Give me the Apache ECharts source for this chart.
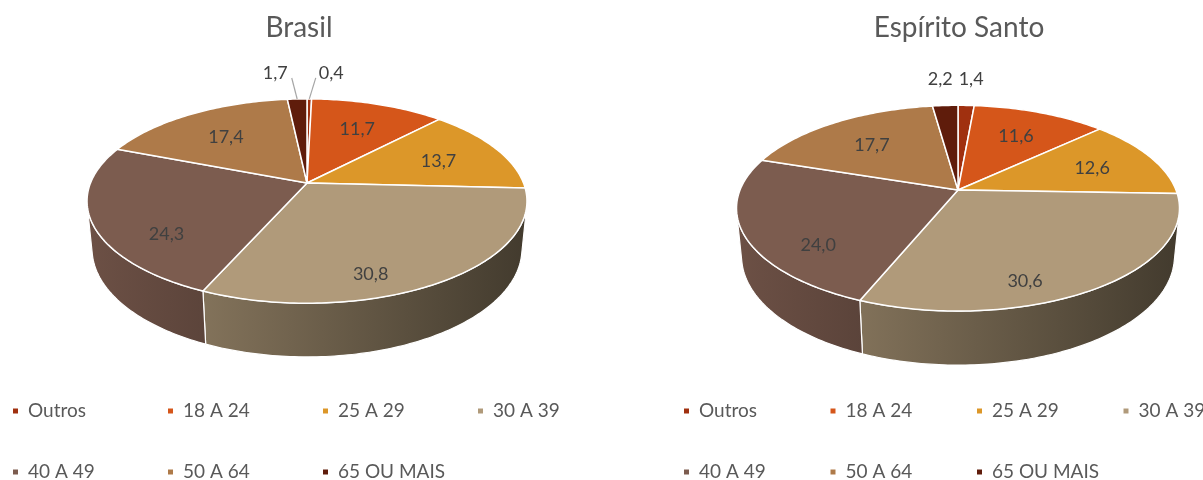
<!DOCTYPE html>
<html><head><meta charset="utf-8">
<script src="https://cdn.jsdelivr.net/npm/echarts@6/dist/echarts.min.js"></script>
<style>html,body{margin:0;padding:0;background:#fff}#c{width:1203px;height:480px}</style>
</head><body><div id="c"></div>
<script>
// ---- data ----
const categories = ['Outros', '18 A 24', '25 A 29', '30 A 39', '40 A 49', '50 A 64', '65 OU MAIS'];
const brasilValues = [0.4, 11.7, 13.7, 30.8, 24.3, 17.4, 1.7];
const espiritoSantoValues = [1.4, 11.6, 12.6, 30.6, 24.0, 17.7, 2.2];
const titles = ['Brasil', 'Espírito Santo'];

// ---- styles / layout ----
const colors = ['#a0300f', '#d5561a', '#dc9729', '#b09a7a', '#7c5c4f', '#ae7a49', '#5f1c0b'];
const FONT = 'Lato';
const pieLayout = [
  { cx: 307, cy: 183, r: 216.5 },
  { cx: 958, cy: 190, r: 218 }
];
const VIEW = { tilt: 27.2 * Math.PI / 180, dist: 5.03, height: 0.25 };
const LABEL_SIZE = 18;

function fmt(v) { return v.toFixed(1).replace('.', ','); }
function shade(hex, f) {
  const n = parseInt(hex.slice(1), 16);
  const r = Math.round(((n >> 16) & 255) * f), g = Math.round(((n >> 8) & 255) * f), b = Math.round((n & 255) * f);
  return 'rgb(' + r + ',' + g + ',' + b + ')';
}
function project(L, theta, rad, y) {
  const px = rad * Math.sin(theta), pz = -rad * Math.cos(theta);
  const s = Math.sin(VIEW.tilt), c = Math.cos(VIEW.tilt), D = VIEW.dist;
  const Yup = y * c - pz * s;
  const Z = D - (pz * c + y * s);
  const k = L.r * D / Z;
  return [L.cx + px * k, L.cy - Yup * k];
}
function arc(L, a0, a1, y) {
  const pts = [];
  const n = Math.max(2, Math.ceil((a1 - a0) / (Math.PI / 180)));
  for (let i = 0; i <= n; i++) pts.push(project(L, a0 + (a1 - a0) * i / n, 1, y));
  return pts;
}
function polyInfo(pts) {
  let a = 0, cx = 0, cy = 0;
  for (let i = 0; i < pts.length; i++) {
    const p = pts[i], q = pts[(i + 1) % pts.length];
    const cr = p[0] * q[1] - q[0] * p[1];
    a += cr; cx += (p[0] + q[0]) * cr; cy += (p[1] + q[1]) * cr;
  }
  a /= 2;
  if (Math.abs(a) < 1e-6) return { a: 0, x: 0, y: 0 };
  return { a: Math.abs(a), x: cx / (6 * a), y: cy / (6 * a) };
}
const measureCtx = document.createElement('canvas').getContext('2d');
function textW(t) { measureCtx.font = LABEL_SIZE + 'px ' + FONT; return measureCtx.measureText(t).width; }

function buildGeometry(values, L) {
  const total = values.reduce((a, b) => a + b, 0);
  const t = 1 / (VIEW.dist * Math.cos(VIEW.tilt));
  const v0 = Math.acos(-t), v1 = 2 * Math.PI - v0;
  let acc = 0;
  const slices = values.map((v, i) => {
    const a0 = acc / total * 2 * Math.PI; acc += v;
    const a1 = acc / total * 2 * Math.PI;
    const apex = project(L, 0, 0, 0);
    const top = [apex].concat(arc(L, a0, a1, 0));
    let wall = null;
    const w0 = Math.max(a0, v0), w1 = Math.min(a1, v1);
    if (w1 > w0) {
      wall = arc(L, w0, w1, 0).concat(arc(L, w0, w1, -VIEW.height).reverse());
    }
    const sl = { value: v, a0, a1, top, wall, text: fmt(v) };
    sl.wallFill = new echarts.graphic.LinearGradient(L.cx - L.r, 0, L.cx + L.r, 0, [
      { offset: 0, color: shade(colors[i], 0.87) },
      { offset: 1, color: shade(colors[i], 0.38) }
    ], true);
    if (v / total >= 0.03) {
      const pi = polyInfo(top), wi = wall ? polyInfo(wall) : { a: 0, x: 0, y: 0 };
      const A = pi.a + wi.a;
      const cx = (pi.x * pi.a + wi.x * wi.a) / A, cy = (pi.y * pi.a + wi.y * wi.a) / A;
      sl.label = { x: apex[0] + (cx - apex[0]) * 1.06, y: apex[1] + (cy - apex[1]) * 1.06 };
    } else {
      const mid = (a0 + a1) / 2;
      const rim = project(L, mid, 1, 0);
      sl.outside = { rim, cx: rim[0], cy: rim[1] - 26, w: textW(sl.text), right: Math.sin(mid) >= 0 };
    }
    return sl;
  });
  // resolve collisions of outside labels
  const outs = slices.filter(s => s.outside).map(s => s.outside).sort((p, q) => p.cx - q.cx);
  for (let i = 0; i + 1 < outs.length; i++) {
    const p = outs[i], q = outs[i + 1];
    let need = (p.w + q.w) / 2 + 6;
    const cur = q.cx - p.cx;
    if (cur < need) {
      if ((need - cur) / 2 > 8) { need += 25; p.leader = q.leader = true; }
      const d = (need - cur) / 2;
      p.cx -= d; q.cx += d;
    }
  }
  return slices;
}

const geometry = [buildGeometry(brasilValues, pieLayout[0]), buildGeometry(espiritoSantoValues, pieLayout[1])];

function pieSeries(idx) {
  const geo = geometry[idx];
  return {
    type: 'custom', name: titles[idx], coordinateSystem: 'none', silent: true,
    data: (idx === 0 ? brasilValues : espiritoSantoValues).map(v => [v]),
    renderItem: function (params, api) {
      const s = geo[params.dataIndex];
      const children = [];
      if (s.wall) children.push({ type: 'polygon', shape: { points: s.wall }, style: { fill: s.wallFill, stroke: '#ffffff', lineWidth: 1.2, lineJoin: 'round' } });
      children.push({ type: 'polygon', shape: { points: s.top }, style: { fill: colors[params.dataIndex], stroke: '#ffffff', lineWidth: 1.5, lineJoin: 'round' } });
      const ts = { fontFamily: FONT, fontSize: LABEL_SIZE, fill: '#404040', verticalAlign: 'middle' };
      if (s.label) {
        children.push({ type: 'text', z2: 50, style: Object.assign({ text: s.text, x: s.label.x, y: s.label.y, align: 'center' }, ts) });
      } else if (s.outside) {
        const o = s.outside;
        children.push({ type: 'text', z2: 50, style: Object.assign({ text: s.text, x: o.cx, y: o.cy, align: 'center' }, ts) });
        if (o.leader) {
          const ex = o.right ? o.cx - o.w / 2 - 3 : o.cx + o.w / 2 + 4;
          children.push({ type: 'polyline', z2: 40, shape: { points: [o.rim, [ex, o.cy + 5]] }, style: { stroke: '#a6a6a6', lineWidth: 1.2, fill: null } });
        }
      }
      return { type: 'group', children };
    }
  };
}

const legendLeft = [13, 684];
const legendTextW = [101, 92.5];

const option = {
  animation: false,
  backgroundColor: '#ffffff',
  title: titles.map((t, i) => ({
    text: t, left: [299, 959][i], top: 14, textAlign: 'center', padding: 0,
    textStyle: { fontFamily: FONT, fontSize: 28, fontWeight: 'normal', color: '#595959' }
  })),
  legend: [0, 1].map(i => ({
    data: categories, left: legendLeft[i], top: 400, width: 600, padding: 0,
    orient: 'horizontal', icon: 'rect', itemWidth: 5, itemHeight: 5, itemGap: 39, selectedMode: false,
    textStyle: { fontFamily: FONT, fontSize: 19, color: '#595959', width: legendTextW[i], lineHeight: 22, padding: [0, 0, 0, 5] }
  })),
  series: [pieSeries(0), pieSeries(1)].concat(categories.map((name, i) => ({
    type: 'custom', name, coordinateSystem: 'none', data: [], itemStyle: { color: colors[i] }, renderItem: () => null
  })))
};
const chart = echarts.init(document.getElementById('c'), null, { renderer: 'canvas' });
chart.setOption(option);
</script></body></html>
